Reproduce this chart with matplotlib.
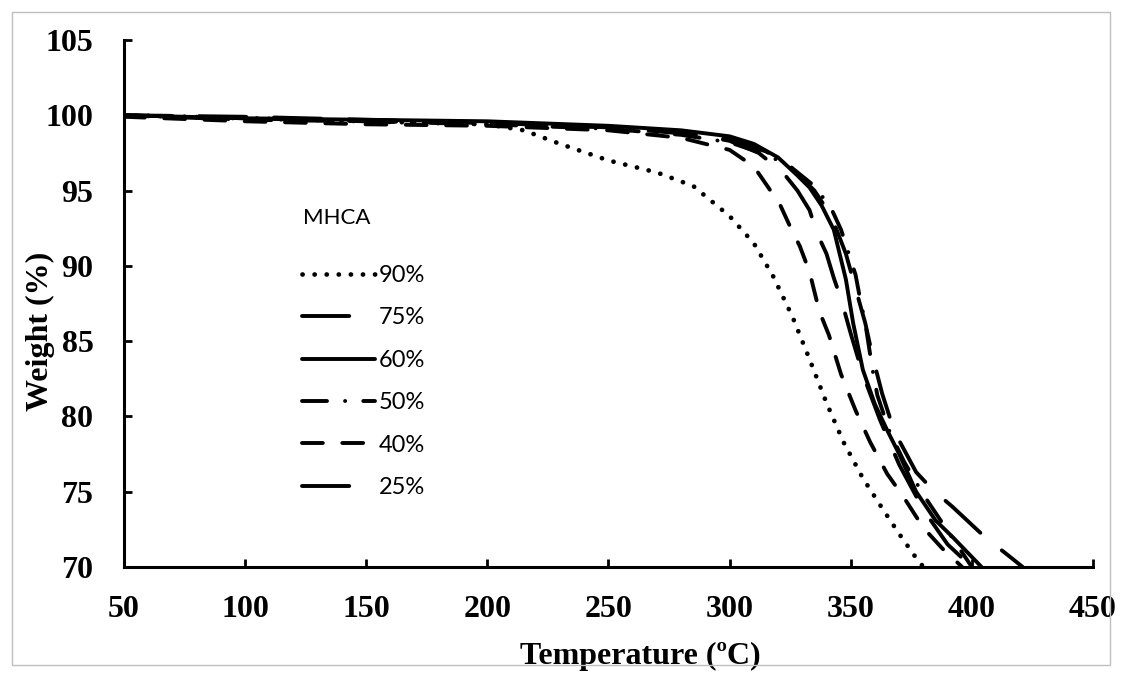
import matplotlib.pyplot as plt
from matplotlib.patches import Rectangle

# TGA curves (temperature in C, weight in %)
t90 = [50, 100, 150, 200, 215, 230, 250, 270, 285, 300, 310, 318, 326, 333, 340, 347, 355, 363, 370, 377, 380]
w90 = [100.0, 99.8, 99.6, 99.4, 99.0, 98.1, 97.0, 96.2, 95.3, 93.3, 91.5, 89.3, 86.6, 83.8, 80.9, 78.3, 75.9, 73.9, 72.2, 70.6, 70.0]

t75 = [50, 100, 150, 200, 250, 280, 300, 312, 322, 328, 333, 336, 340, 343, 346, 350, 355, 362, 370, 380, 390, 400]
w75 = [100.0, 99.9, 99.7, 99.5, 99.2, 98.9, 98.3, 97.5, 96.2, 95.0, 93.7, 92.2, 90.8, 89.2, 87.8, 85.5, 82.8, 79.8, 76.8, 73.8, 71.5, 70.0]

t60 = [50, 100, 150, 200, 250, 280, 300, 310, 320, 328, 333, 338, 343, 348, 351, 355, 360, 365, 370, 377, 385, 392, 398, 404]
w60 = [100.0, 99.8, 99.7, 99.6, 99.3, 99.0, 98.6, 98.1, 97.2, 96.0, 95.2, 94.0, 92.4, 89.1, 86.2, 83.1, 80.8, 79.1, 77.5, 75.0, 73.1, 72.0, 71.0, 70.0]

t50 = [50, 100, 150, 200, 250, 280, 300, 315, 325, 335, 342, 346, 352, 354, 356, 359, 361, 366, 372, 380, 390, 400]
w50 = [100.0, 99.7, 99.6, 99.4, 99.1, 98.7, 98.2, 97.4, 96.6, 95.3, 93.8, 92.4, 89.4, 87.7, 86.2, 83.1, 81.4, 79.0, 77.0, 74.8, 72.4, 70.0]

t40 = [50, 100, 150, 200, 250, 280, 300, 310, 316, 321, 325, 329, 333, 337, 341, 346, 352, 358, 365, 372, 380, 388, 396]
w40 = [99.9, 99.6, 99.4, 99.3, 99.0, 98.5, 97.7, 96.6, 95.2, 94.0, 92.6, 91.3, 89.6, 87.0, 85.4, 82.8, 80.4, 78.3, 76.2, 74.6, 72.6, 71.2, 70.0]

t25 = [50, 100, 150, 200, 250, 280, 300, 315, 325, 335, 342, 348, 352, 356, 359, 363, 368, 377, 384, 392, 398, 406, 414, 421]
w25 = [100.0, 99.8, 99.6, 99.5, 99.2, 98.8, 98.4, 97.6, 96.6, 95.0, 93.3, 90.8, 88.5, 86.2, 84.0, 81.5, 79.0, 76.3, 75.1, 74.0, 73.1, 71.9, 70.9, 70.0]

labels = ["90%", "75%", "60%", "50%", "40%", "25%"]
xticks = [50, 100, 150, 200, 250, 300, 350, 400, 450]
yticks = [70, 75, 80, 85, 90, 95, 100, 105]

plt.rcParams["lines.scale_dashes"] = False

fig = plt.figure(figsize=(11.21, 6.73), dpi=100)
ax = fig.add_axes([0.1106, 0.1575, 0.8644, 0.7831])

styles = [
    (t90, w90, (0, (0.1, 8.6)), 3.4),
    (t75, w75, (0, (34, 20)), 2.8),
    (t60, w60, "-", 2.8),
    (t50, w50, (0, (18, 13, 0.1, 13)), 2.8),
    (t40, w40, (0, (15, 14)), 2.8),
    (t25, w25, (0, (34, 20)), 2.8),
]
for (t, w, ls, lw), lab in zip(styles, labels):
    ax.plot(t, w, color="black", lw=lw, linestyle=ls, dash_capstyle="round",
            solid_capstyle="round", label=lab)

ax.set_xlim(50, 450)
ax.set_ylim(70, 105)
ax.set_xticks(xticks)
ax.set_yticks(yticks)

for s in ["top", "right"]:
    ax.spines[s].set_visible(False)
for s in ["left", "bottom"]:
    ax.spines[s].set_linewidth(2.2)

tickfont = {"family": "Liberation Serif", "weight": "bold", "size": 23}
ax.tick_params(direction="in", length=6, width=2)
ax.set_xticklabels([str(v) for v in xticks], fontdict=tickfont)
ax.set_yticklabels([str(v) for v in yticks], fontdict=tickfont)
ax.tick_params(axis="x", pad=20)
ax.tick_params(axis="y", pad=22)

ax.set_xlabel("Temperature (\u00baC)", fontdict=tickfont)
ax.set_ylabel("Weight (%)", fontdict=tickfont)
ax.xaxis.set_label_coords(0.533, -0.142)
ax.yaxis.set_label_coords(-0.0712, 0.448)

fig.text(303 / 1121, 1 - 218 / 673, "MHCA", family="Lato", fontsize=16, va="center")
leg = ax.legend(loc="upper left", bbox_to_anchor=(290 / 1121, 1 - 253 / 673),
                bbox_transform=fig.transFigure, frameon=False,
                prop={"family": "Lato", "size": 17}, handlelength=3.1,
                handletextpad=0.15, labelspacing=0.91, borderpad=0)

fig.patches.append(Rectangle((12 / 1121, 1 - 665 / 673), 1098 / 1121, 653 / 673,
                             transform=fig.transFigure, fill=False,
                             edgecolor="#bfbfbf", lw=1))

fig.savefig("out.png", dpi=100)
